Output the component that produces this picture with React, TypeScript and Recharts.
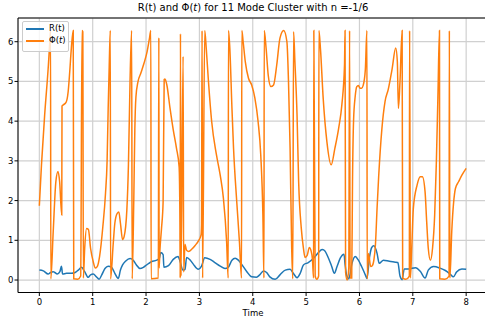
import { LineChart, Line, XAxis, YAxis, CartesianGrid, ReferenceLine } from "recharts"

// tick positions
const timeTicks = [0, 1, 2, 3, 4, 5, 6, 7, 8]
const valueTicks = [0, 1, 2, 3, 4, 5, 6]

// amplitude R(t)
const rTime = [
  0, 0.075, 0.165, 0.21, 0.26, 0.29, 0.335, 0.385, 0.415, 0.435, 0.51, 0.6, 0.67, 0.73, 0.79, 0.85, 0.915, 0.96,
  1.01, 1.07, 1.12, 1.17, 1.23, 1.29, 1.355, 1.415, 1.48, 1.52, 1.56, 1.62, 1.7, 1.76, 1.82, 1.885, 1.95,
  2.01, 2.1, 2.2, 2.25, 2.275, 2.32, 2.335, 2.42, 2.51, 2.6, 2.64, 2.69, 2.73, 2.76, 2.83, 2.885, 2.98,
  3.04, 3.1, 3.2, 3.29, 3.39, 3.48, 3.54, 3.61, 3.67, 3.73, 3.79, 3.89, 3.98,
  4.07, 4.13, 4.2, 4.26, 4.32, 4.42, 4.51, 4.61, 4.7, 4.76, 4.83, 4.89, 4.95,
  5.04, 5.14, 5.23, 5.3, 5.34, 5.42, 5.48, 5.53, 5.58, 5.64, 5.71, 5.73, 5.76, 5.8, 5.86, 5.92, 5.98,
  6.04, 6.11, 6.14, 6.19, 6.23, 6.27, 6.33, 6.37, 6.45, 6.56, 6.67, 6.72, 6.76, 6.8, 6.84, 6.92,
  7.05, 7.14, 7.23, 7.29, 7.39, 7.51, 7.61, 7.7, 7.76, 7.82, 7.92, 8.0,
]
const rValue = [
  0.25, 0.23, 0.15, 0.19, 0.21, 0.19, 0.15, 0.21, 0.35, 0.15, 0.17, 0.17, 0.19, 0.25, 0.32, 0.21, 0.07, 0.13,
  0.15, 0.08, 0.02, 0.13, 0.29, 0.35, 0.32, 0.17, 0.04, 0.25, 0.38, 0.48, 0.54, 0.5, 0.38, 0.29, 0.32,
  0.38, 0.46, 0.5, 0.55, 0.69, 0.64, 0.32, 0.36, 0.52, 0.59, 0.46, 0.25, 0.27, 0.57, 0.5, 0.4, 0.27,
  0.35, 0.56, 0.52, 0.44, 0.35, 0.29, 0.32, 0.5, 0.55, 0.5, 0.4, 0.21, 0.08,
  0.07, 0.13, 0.23, 0.19, 0.08, 0.02, 0.13, 0.25, 0.27, 0.17, 0.06, 0.17, 0.38,
  0.44, 0.55, 0.69, 0.77, 0.75, 0.55, 0.34, 0.17, 0.34, 0.55, 0.65, 0.4, 0.12, 0.03, 0.42, 0.59, 0.5,
  0.34, 0.13, 0.04, 0.59, 0.82, 0.86, 0.67, 0.42, 0.5, 0.47, 0.45, 0.44, 0.1, 0.01, 0.28, 0.28,
  0.31, 0.22, 0.05, 0.25, 0.34, 0.3, 0.24, 0.15, 0.08, 0.2, 0.28, 0.27,
]

// phase Φ(t), wrapped to [0, 2π)
const phiTime = [
  0, 0.04, 0.1, 0.17, 0.2, 0.21, 0.215, 0.26, 0.31, 0.35, 0.38, 0.42, 0.425, 0.45, 0.5, 0.54, 0.57, 0.6, 0.635,
  0.645, 0.72, 0.775, 0.8, 0.815, 0.825, 0.85, 0.885, 0.92, 0.96,
  1.01, 1.05, 1.09, 1.13, 1.19, 1.24, 1.27, 1.29, 1.31, 1.33, 1.335, 1.385, 1.415, 1.46, 1.49, 1.52, 1.56, 1.59,
  1.64, 1.67, 1.7, 1.73, 1.74, 1.77, 1.79, 1.81, 1.85, 1.9, 1.96,
  2.02, 2.06, 2.09, 2.095, 2.23, 2.24, 2.245, 2.26, 2.29, 2.32, 2.34, 2.355, 2.39, 2.45, 2.51, 2.57, 2.62, 2.635,
  2.64, 2.645, 2.655, 2.695, 2.705, 2.73, 2.76, 2.8, 2.86, 2.92, 2.98,
  3.03, 3.04, 3.05, 3.06, 3.1, 3.13, 3.17, 3.23, 3.32, 3.39, 3.45, 3.51, 3.54, 3.545, 3.57, 3.61, 3.64, 3.7, 3.75,
  3.79, 3.795, 3.82, 3.86, 3.92, 3.98,
  4.04, 4.1, 4.15, 4.19, 4.21, 4.215, 4.25, 4.29, 4.34, 4.39, 4.45, 4.51, 4.58, 4.64, 4.67, 4.7, 4.73, 4.75,
  4.765, 4.79, 4.83, 4.86, 4.91, 4.95, 4.98,
  5.02, 5.06, 5.09, 5.12, 5.14, 5.145, 5.17, 5.2, 5.235, 5.24, 5.27, 5.32, 5.39, 5.47, 5.54, 5.61, 5.67, 5.72,
  5.73, 5.74, 5.77, 5.8, 5.815, 5.825, 5.855, 5.87, 5.89, 5.92, 5.95, 5.98,
  6.01, 6.04, 6.07, 6.11, 6.14, 6.145, 6.17, 6.21, 6.24, 6.27, 6.3, 6.33, 6.36, 6.42, 6.48, 6.54, 6.61, 6.68,
  6.71, 6.73, 6.76, 6.8, 6.81, 6.87, 6.935, 6.94, 6.955, 6.98,
  7.01, 7.08, 7.14, 7.18, 7.23, 7.26, 7.29, 7.33, 7.37, 7.41, 7.44, 7.47, 7.5, 7.505, 7.6, 7.68, 7.685, 7.695,
  7.73, 7.8, 7.86, 7.92, 8.0,
]
const phiValue = [
  1.87, 2.9, 4.16, 5.42, 6.09, 6.28, 0.03, 1.22, 2.48, 2.73, 2.48, 1.64, 4.38, 4.41, 4.47, 4.74, 5.25, 5.84, 6.28,
  0.03, 0.02, 0.1, 6.28, 6.25, 0.05, 0.8, 1.3, 1.27, 0.8,
  0.46, 0.3, 0.35, 0.6, 1.34, 2.18, 3.0, 4.3, 5.4, 6.28, 0.03, 0.92, 1.43, 1.68, 1.71, 1.43, 1.02, 1.1,
  1.76, 2.9, 5.0, 6.28, 0.03, 2.0, 3.8, 4.6, 5.0, 5.2, 5.45,
  5.75, 6.05, 6.28, 0.03, 0.05, 6.1, 0.3, 0.75, 1.3, 1.97, 5.05, 5.06, 4.91, 4.32, 3.78, 3.32, 2.85, 1.5,
  0.05, 6.2, 0.1, 5.63, 0.2, 0.9, 0.75, 0.72, 0.78, 0.87, 0.98,
  1.13, 1.4, 6.28, 0.05, 6.28, 5.8, 5.0, 3.99, 3.15, 2.64, 2.06, 0.97, 0.05, 6.28, 5.84, 4.33, 3.32, 1.97, 0.97,
  0.05, 6.28, 6.0, 5.5, 5.08, 4.91,
  4.58, 3.99, 3.15, 1.64, 0.05, 6.28, 5.84, 5.16, 4.87, 4.91, 5.42, 6.09, 6.28, 6.0, 5.0, 3.32, 0.8, 0.03,
  6.25, 5.5, 4.16, 2.48, 1.3, 0.8, 0.57,
  0.62, 0.82, 0.75, 0.5, 0.05, 6.28, 0.1, 0.02, 0.1, 6.28, 5.8, 4.58, 3.48, 2.9, 3.32, 3.82, 4.41, 5.42,
  6.28, 0.2, 0.0, 0.3, 6.28, 0.05, 0.05, 2.5, 4.03, 4.62, 4.87, 4.9,
  4.83, 4.83, 4.9, 5.29, 6.28, 0.03, 0.67, 0.34, 0.36, 0.5, 0.9, 1.8, 2.6, 3.8, 4.5, 4.8, 5.3, 5.84,
  5.5, 4.32, 5.0, 6.28, 0.05, 0.02, 0.1, 6.28, 0.05, 0.8,
  1.8, 2.39, 2.6, 2.6, 2.22, 1.47, 0.8, 0.5, 0.8, 1.64, 2.9, 4.58, 6.28, 0.03, 0.02, 0.1, 6.28, 0.05,
  1.22, 2.31, 2.48, 2.64, 2.81,
]

const rData = rTime.map((t, i) => ({ t, r: rValue[i] }))
const phiData = phiTime.map((t, i) => ({ t, phi: phiValue[i] }))

const font = "'DejaVu Sans', sans-serif"
const tickStyle = { fill: "#000", fontSize: 8.5, fontFamily: font }

export default function App() {
  return (
    <div style={{ position: "relative", width: 485, height: 327, overflow: "hidden", background: "#fff", fontFamily: font }}>
      <style>{"body{margin:0}"}</style>

      <div style={{ position: "absolute", left: 18, width: 470, top: 2, textAlign: "center", fontSize: 10, color: "#000" }}>
        R(t) and Φ(<i>t</i>) for 11 Mode Cluster with n =-1/6
      </div>

      <LineChart width={490} height={327} margin={{ top: 18, right: 2.5, left: 0, bottom: 0 }}>
        <CartesianGrid stroke="#d0d0d0" strokeWidth={1.2} />
        <XAxis
          dataKey="t"
          type="number"
          domain={[-0.4, 8.4]}
          ticks={timeTicks}
          allowDataOverflow
          height={34.5}
          stroke="#000"
          tickSize={3.5}
          tickMargin={3}
          tick={tickStyle}
        />
        <YAxis
          type="number"
          domain={[-0.314, 6.597]}
          ticks={valueTicks}
          allowDataOverflow
          width={18}
          stroke="#000"
          tickSize={3.5}
          tickMargin={1}
          tick={tickStyle}
        />
        <ReferenceLine y={6.597} stroke="#000" strokeWidth={1} />
        <Line data={rData} dataKey="r" type="monotoneX" stroke="#1f77b4" strokeWidth={1.5} dot={false} isAnimationActive={false} />
        <Line data={phiData} dataKey="phi" type="monotoneX" stroke="#ff7f0e" strokeWidth={1.5} dot={false} isAnimationActive={false} />
      </LineChart>

      <div style={{ position: "absolute", left: 253 - 30, width: 60, top: 308, textAlign: "center", fontSize: 8.5, color: "#000" }}>
        Time
      </div>

      <div
        style={{
          position: "absolute",
          left: 22,
          top: 21,
          width: 47,
          height: 31,
          boxSizing: "border-box",
          background: "rgba(255,255,255,0.8)",
          border: "1px solid #cccccc",
          borderRadius: 2,
          fontSize: 8.5,
          color: "#000",
        }}
      >
        <div style={{ position: "absolute", left: 3, top: 6, width: 18, height: 1.5, background: "#1f77b4" }} />
        <div style={{ position: "absolute", left: 26, top: 1 }}>R(t)</div>
        <div style={{ position: "absolute", left: 3, top: 18, width: 18, height: 1.5, background: "#ff7f0e" }} />
        <div style={{ position: "absolute", left: 26, top: 13 }}>
          Φ(<i>t</i>)
        </div>
      </div>
    </div>
  )
}
